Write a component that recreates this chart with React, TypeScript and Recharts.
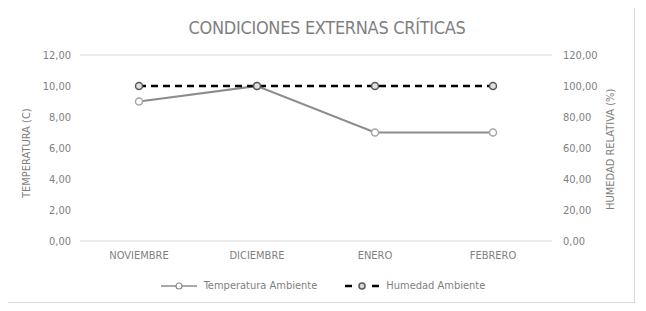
import { LineChart, Line, XAxis, YAxis, CartesianGrid } from 'recharts';

const MESES = ['NOVIEMBRE', 'DICIEMBRE', 'ENERO', 'FEBRERO'];
const TEMPERATURA = [9, 10, 7, 7];
const HUMEDAD = [100, 100, 100, 100];
const TICKS_TEMP = [0, 2, 4, 6, 8, 10, 12];
const TICKS_HUM = [0, 20, 40, 60, 80, 100, 120];

const FONT = '"Liberation Sans Narrow", "DejaVu Sans Condensed", "Open Sans", sans-serif';
const TEXT = '#7f7f7f';

const fmt = (v: number) => v.toFixed(2).replace('.', ',');

const data = MESES.map((mes, i) => ({
    mes,
    temp: TEMPERATURA[i],
    hum: HUMEDAD[i],
}));

function LegendItem({ dashed, label }: { dashed?: boolean; label: string }) {
    return (
        <span style={{ display: 'inline-flex', alignItems: 'center', gap: 5 }}>
            <svg width={38} height={10}>
                {dashed ? (
                    <>
                        <line x1={2} y1={5} x2={9} y2={5} stroke="#000" strokeWidth={2.5} />
                        <line x1={29} y1={5} x2={36} y2={5} stroke="#000" strokeWidth={2.5} />
                        <circle cx={19} cy={5} r={3} fill="#d9d9d9" stroke="#595959" strokeWidth={1.5} />
                    </>
                ) : (
                    <>
                        <line x1={0} y1={5} x2={36} y2={5} stroke="#8c8c8c" strokeWidth={1.5} />
                        <circle cx={18} cy={5} r={3} fill="#fff" stroke="#8c8c8c" strokeWidth={1.2} />
                    </>
                )}
            </svg>
            <span>{label}</span>
        </span>
    );
}

export default function App() {
    return (
        <div style={{ position: 'relative', width: 646, height: 311, margin: -8, background: '#fff', fontFamily: FONT }}>
            <div
                style={{
                    position: 'absolute', left: 5, top: 6, width: 628, height: 295,
                    border: '1px solid #d9d9d9',
                }}
            />
            <div
                style={{
                    position: 'absolute', left: 0, top: 17, width: 646, textAlign: 'center',
                    fontSize: 18, color: '#7f7f7f', paddingLeft: 4, letterSpacing: -0.3,
                }}
            >
                CONDICIONES EXTERNAS CRÍTICAS
            </div>

            <div style={{ position: 'absolute', left: 0, top: 0 }}>
                <LineChart width={646} height={311} data={data} margin={{ top: 55, right: 34, bottom: 40, left: 30 }}>
                    <CartesianGrid vertical={false} stroke="#d9d9d9" />
                    <XAxis
                        dataKey="mes"
                        axisLine={false}
                        tickLine={false}
                        height={30}
                        tickMargin={4}
                        padding={{ left: 59, right: 59 }}
                        tick={{ fill: TEXT, fontSize: 11, fontFamily: FONT }}
                    />
                    <YAxis
                        yAxisId="t"
                        domain={[0, 12]}
                        ticks={TICKS_TEMP}
                        tickFormatter={fmt}
                        width={50}
                        axisLine={false}
                        tickLine={false}
                        tickMargin={3}
                        tick={{ fill: TEXT, fontSize: 11, fontFamily: FONT }}
                        label={{
                            value: 'TEMPERATURA (C)', angle: -90, position: 'insideLeft', offset: -4, dy: 50,
                            style: { fill: TEXT, fontSize: 11, fontFamily: FONT, textAnchor: 'start' },
                        }}
                    />
                    <YAxis
                        yAxisId="h"
                        orientation="right"
                        domain={[0, 120]}
                        ticks={TICKS_HUM}
                        tickFormatter={fmt}
                        width={60}
                        axisLine={false}
                        tickLine={false}
                        tickMargin={5}
                        tick={{ fill: TEXT, fontSize: 11, fontFamily: FONT }}
                        label={{
                            value: 'HUMEDAD RELATIVA (%)', angle: -90, position: 'insideRight', offset: 2, dy: 62,
                            style: { fill: TEXT, fontSize: 11, fontFamily: FONT, textAnchor: 'start' },
                        }}
                    />
                    <Line
                        yAxisId="t"
                        dataKey="temp"
                        stroke="#8c8c8c"
                        strokeWidth={2}
                        dot={{ r: 3.5, fill: '#fff', stroke: '#a6a6a6', strokeWidth: 1.5 }}
                        isAnimationActive={false}
                    />
                    <Line
                        yAxisId="h"
                        dataKey="hum"
                        stroke="#000"
                        strokeWidth={2.5}
                        strokeDasharray="7 5"
                        dot={{ r: 3.5, fill: '#e0e0e0', stroke: '#595959', strokeWidth: 1.5, strokeDasharray: '' }}
                        isAnimationActive={false}
                    />
                </LineChart>
            </div>

            <div
                style={{
                    position: 'absolute', left: 0, top: 279, width: 646, display: 'flex',
                    justifyContent: 'center', gap: 26, fontSize: 11, color: TEXT, paddingLeft: 0,
                }}
            >
                <LegendItem label="Temperatura Ambiente" />
                <LegendItem dashed label="Humedad Ambiente" />
            </div>
        </div>
    );
}
